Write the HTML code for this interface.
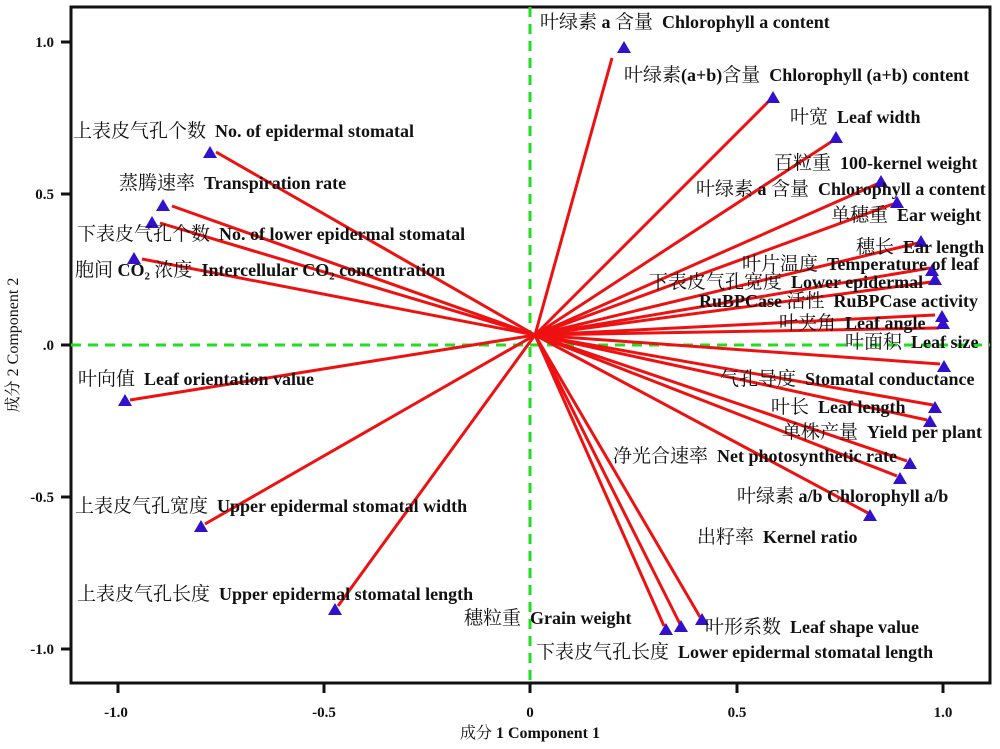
<!DOCTYPE html>
<html><head><meta charset="utf-8"><style>
html,body{margin:0;padding:0;background:#fff;}
svg text{font-family:"Liberation Serif","Noto Serif CJK SC",serif;font-size:18px;font-weight:bold;fill:#111;}
svg text .c{font-weight:normal;font-size:19px;}
.t{font-size:15px;}
</style></head><body>
<svg width="1000" height="744" viewBox="0 0 1000 744" xmlns="http://www.w3.org/2000/svg">
<rect x="71" y="7" width="919" height="676" fill="#fff" stroke="#111" stroke-width="3"/>
<line x1="71" y1="345" x2="990" y2="345" stroke="#22dd22" stroke-width="3" stroke-dasharray="10,7"/>
<line x1="530" y1="7" x2="530" y2="683" stroke="#22dd22" stroke-width="3" stroke-dasharray="10,7"/>
<g stroke="#111" stroke-width="3">
<line x1="61" y1="42" x2="71" y2="42"/><line x1="61" y1="194" x2="71" y2="194"/><line x1="61" y1="345" x2="71" y2="345"/><line x1="61" y1="497" x2="71" y2="497"/><line x1="61" y1="649" x2="71" y2="649"/>
<line x1="118" y1="683" x2="118" y2="693"/><line x1="324" y1="683" x2="324" y2="693"/><line x1="530" y1="683" x2="530" y2="693"/><line x1="737" y1="683" x2="737" y2="693"/><line x1="943" y1="683" x2="943" y2="693"/>
</g>
<g text-anchor="end">
<text x="54" y="47" class="t">1.0</text><text x="54" y="199" class="t">0.5</text><text x="54" y="350" class="t">.0</text><text x="54" y="502" class="t">-0.5</text><text x="54" y="654" class="t">-1.0</text>
</g>
<g text-anchor="middle">
<text x="116" y="717" class="t">-1.0</text><text x="324" y="717" class="t">-0.5</text><text x="530" y="717" class="t">0</text><text x="737" y="717" class="t">0.5</text><text x="943" y="717" class="t">1.0</text>
</g>
<text x="530" y="738" text-anchor="middle" style="font-size:16px"><tspan class="c" style="font-size:16px">成分</tspan> 1 Component 1</text>
<text transform="translate(18,345) rotate(-90)" text-anchor="middle" style="font-weight:normal;font-size:16px">成分 2 Component 2</text>
<g stroke="#ee1111" stroke-width="3" fill="none">
<line x1="535" y1="335" x2="612" y2="58"/>
<line x1="535" y1="335" x2="770" y2="100"/>
<line x1="535" y1="335" x2="834" y2="140"/>
<line x1="535" y1="335" x2="877" y2="184"/>
<line x1="535" y1="335" x2="893" y2="204"/>
<line x1="535" y1="335" x2="918" y2="243"/>
<line x1="535" y1="335" x2="930" y2="268"/>
<line x1="535" y1="335" x2="931" y2="282"/>
<line x1="535" y1="335" x2="935" y2="315"/>
<line x1="535" y1="335" x2="939" y2="328"/>
<line x1="535" y1="335" x2="940" y2="364"/>
<line x1="535" y1="335" x2="933" y2="405"/>
<line x1="535" y1="335" x2="927" y2="420"/>
<line x1="535" y1="335" x2="907" y2="461"/>
<line x1="535" y1="335" x2="897" y2="476"/>
<line x1="535" y1="335" x2="868" y2="513"/>
<line x1="535" y1="335" x2="700" y2="617"/>
<line x1="535" y1="335" x2="680" y2="624"/>
<line x1="535" y1="335" x2="664" y2="626"/>
<line x1="535" y1="335" x2="338" y2="606"/>
<line x1="535" y1="335" x2="205" y2="524"/>
<line x1="535" y1="335" x2="130" y2="400"/>
<line x1="535" y1="335" x2="142" y2="259"/>
<line x1="535" y1="335" x2="160" y2="223"/>
<line x1="535" y1="335" x2="172" y2="206"/>
<line x1="535" y1="335" x2="216" y2="152"/>
</g>
<g fill="#3311cc">
<path d="M0,-7 L7,5 L-7,5 Z" transform="translate(624,48)"/>
<path d="M0,-7 L7,5 L-7,5 Z" transform="translate(773,98)"/>
<path d="M0,-7 L7,5 L-7,5 Z" transform="translate(836,138)"/>
<path d="M0,-7 L7,5 L-7,5 Z" transform="translate(881,182)"/>
<path d="M0,-7 L7,5 L-7,5 Z" transform="translate(897,203)"/>
<path d="M0,-7 L7,5 L-7,5 Z" transform="translate(921,242)"/>
<path d="M0,-7 L7,5 L-7,5 Z" transform="translate(932,271)"/>
<path d="M0,-7 L7,5 L-7,5 Z" transform="translate(935,280)"/>
<path d="M0,-7 L7,5 L-7,5 Z" transform="translate(942,317)"/>
<path d="M0,-7 L7,5 L-7,5 Z" transform="translate(943,324)"/>
<path d="M0,-7 L7,5 L-7,5 Z" transform="translate(944,367)"/>
<path d="M0,-7 L7,5 L-7,5 Z" transform="translate(935,408)"/>
<path d="M0,-7 L7,5 L-7,5 Z" transform="translate(930,422)"/>
<path d="M0,-7 L7,5 L-7,5 Z" transform="translate(910,464)"/>
<path d="M0,-7 L7,5 L-7,5 Z" transform="translate(900,479)"/>
<path d="M0,-7 L7,5 L-7,5 Z" transform="translate(870,516)"/>
<path d="M0,-7 L7,5 L-7,5 Z" transform="translate(702,620)"/>
<path d="M0,-7 L7,5 L-7,5 Z" transform="translate(681,627)"/>
<path d="M0,-7 L7,5 L-7,5 Z" transform="translate(666,630)"/>
<path d="M0,-7 L7,5 L-7,5 Z" transform="translate(335,610)"/>
<path d="M0,-7 L7,5 L-7,5 Z" transform="translate(201,527)"/>
<path d="M0,-7 L7,5 L-7,5 Z" transform="translate(125,401)"/>
<path d="M0,-7 L7,5 L-7,5 Z" transform="translate(134,259)"/>
<path d="M0,-7 L7,5 L-7,5 Z" transform="translate(152,223)"/>
<path d="M0,-7 L7,5 L-7,5 Z" transform="translate(163,206)"/>
<path d="M0,-7 L7,5 L-7,5 Z" transform="translate(210,153)"/>
</g>
<g>
<text x="540" y="28"><tspan class="c">叶绿素</tspan> a <tspan class="c">含量</tspan>&#160;&#160;Chlorophyll a content</text>
<text x="624" y="81"><tspan class="c">叶绿素</tspan>(a+b)<tspan class="c">含量</tspan>&#160;&#160;Chlorophyll (a+b) content</text>
<text x="790" y="123"><tspan class="c">叶宽</tspan>&#160;&#160;Leaf width</text>
<text x="774" y="169"><tspan class="c">百粒重</tspan>&#160;&#160;100-kernel weight</text>
<text x="696" y="195"><tspan class="c">叶绿素</tspan> a <tspan class="c">含量</tspan>&#160;&#160;Chlorophyll a content</text>
<text x="831" y="221"><tspan class="c">单穗重</tspan>&#160;&#160;Ear weight</text>
<text x="856" y="253"><tspan class="c">穗长</tspan>&#160;&#160;Ear length</text>
<text x="742" y="270"><tspan class="c">叶片温度</tspan>&#160;&#160;Temperature of leaf</text>
<text x="649" y="288"><tspan class="c">下表皮气孔宽度</tspan>&#160;&#160;Lower epidermal</text>
<text x="699" y="307">RuBPCase <tspan class="c">活性</tspan>&#160;&#160;RuBPCase activity</text>
<text x="779" y="329"><tspan class="c">叶夹角</tspan>&#160;&#160;Leaf angle</text>
<text x="845" y="348"><tspan class="c">叶面积</tspan>&#160;&#160;Leaf size</text>
<text x="720" y="385"><tspan class="c">气孔导度</tspan>&#160;&#160;Stomatal conductance</text>
<text x="771" y="413"><tspan class="c">叶长</tspan>&#160;&#160;Leaf length</text>
<text x="782" y="438"><tspan class="c">单株产量</tspan>&#160;&#160;Yield per plant</text>
<text x="613" y="462"><tspan class="c">净光合速率</tspan>&#160;&#160;Net photosynthetic rate</text>
<text x="737" y="502"><tspan class="c">叶绿素</tspan> a/b Chlorophyll a/b</text>
<text x="697" y="543"><tspan class="c">出籽率</tspan>&#160;&#160;Kernel ratio</text>
<text x="464" y="624"><tspan class="c">穗粒重</tspan>&#160;&#160;Grain weight</text>
<text x="705" y="633"><tspan class="c">叶形系数</tspan>&#160;&#160;Leaf shape value</text>
<text x="536" y="658"><tspan class="c">下表皮气孔长度</tspan>&#160;&#160;Lower epidermal stomatal length</text>
<text x="77" y="600"><tspan class="c">上表皮气孔长度</tspan>&#160;&#160;Upper epidermal stomatal length</text>
<text x="75" y="512"><tspan class="c">上表皮气孔宽度</tspan>&#160;&#160;Upper epidermal stomatal width</text>
<text x="78" y="385"><tspan class="c">叶向值</tspan>&#160;&#160;Leaf orientation value</text>
<text x="75" y="276"><tspan class="c">胞间</tspan> CO₂ <tspan class="c">浓度</tspan>&#160;&#160;Intercellular CO₂ concentration</text>
<text x="77" y="240"><tspan class="c">下表皮气孔个数</tspan>&#160;&#160;No. of lower epidermal stomatal</text>
<text x="119" y="189"><tspan class="c">蒸腾速率</tspan>&#160;&#160;Transpiration rate</text>
<text x="73" y="137"><tspan class="c">上表皮气孔个数</tspan>&#160;&#160;No. of epidermal stomatal</text>
</g>
</svg>
</body></html>
